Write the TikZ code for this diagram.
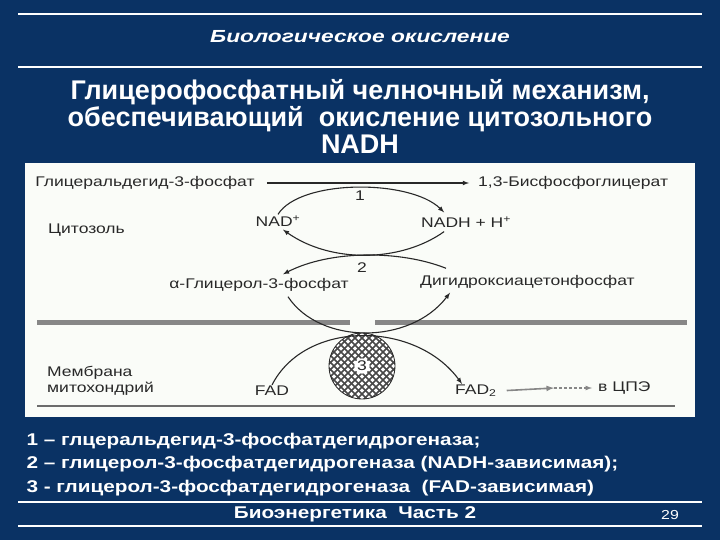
\documentclass[tikz,border=0pt]{standalone}
\usepackage{fontspec}
\setmainfont{Liberation Sans}
\newfontfamily\diagfont[FakeStretch=1.25]{Liberation Sans}
\newfontfamily\slidefont[FakeStretch=1.22]{Liberation Sans}
\newfontfamily\headfont[FakeStretch=1.3]{Liberation Sans}
\usetikzlibrary{calc, arrows}
\tikzset{>=latex}
\definecolor{slideblue}{RGB}{10, 50, 100}
\definecolor{boxwhite}{RGB}{250, 252, 248}
\definecolor{inkgray}{RGB}{40, 40, 40}
\definecolor{membgray}{RGB}{135, 135, 135}

\begin{document}
\begin{tikzpicture}[x = 1pt, y = -1pt,
  chem/.style = {text = inkgray, inner sep = 1pt, font = \diagfont\fontsize{14}{16}\selectfont},
  rxn/.style = {->, >=latex, inkgray, line width = 1.1pt},
  rule/.style = {white, line width = 1.3pt}]
\fill[slideblue] (0, 0) rectangle (720, 540);
\useasboundingbox (0, 0) rectangle (720, 540);

% slide frame
\draw[rule] (18, 14) -- (702, 14);
\draw[rule] (18, 67) -- (702, 67);
\draw[rule] (18, 502) -- (702, 502);
\draw[rule] (18, 526) -- (702, 526);
\node[white, font = \headfont\fontsize{17.5}{17.5}\bfseries\itshape\selectfont] (hdr) at (360, 37) {Биологическое окисление};
\node[white, align = center, font = \fontsize{27}{27}\bfseries\selectfont] (title) at (360, 116)
  {Глицерофосфатный челночный механизм,\\обеспечивающий\ \ окисление цитозольного\\NADH};

% diagram
\fill[boxwhite] (25, 163) rectangle (695, 417);
\fill[membgray] (37, 319.5) rectangle (350, 324.5);
\fill[membgray] (375, 319.5) rectangle (687, 324.5);
\draw[membgray!80!black, line width = 1.6pt] (37, 406) -- (675, 406);

\node[chem] (gap) at (145, 183) {Глицеральдегид-3-фосфат};
\node[chem, anchor = west] (bpg) at (477, 183) {1,3-Бисфосфоглицерат};
\node[chem] (n1) at (360, 196) {1};
\node[chem] (nad) at (278, 221) {NAD\textsuperscript{+}};
\node[chem, anchor = west] (nadh) at (420, 222) {NADH + H\textsuperscript{+}};
\node[chem, anchor = west] (cyto) at (47, 230) {Цитозоль};
\node[chem] (n2) at (362, 268) {2};
\node[chem] (agp) at (259, 285) {α-Глицерол-3-фосфат};
\node[chem, anchor = west] (dhap) at (419, 282) {Дигидроксиацетонфосфат};
\node[chem, anchor = west, align = left] (memb) at (46, 381) {Мембрана\\митохондрий};
\node[chem] (fad) at (272, 391) {FAD};
\node[chem, anchor = west] (fad2) at (454, 391) {FAD\textsubscript{2}};
\node[chem, anchor = west] (etc) at (597, 388) {в ЦПЭ};

% enzyme 3
\begin{scope}
\clip (362, 366) circle [radius = 33];
\fill[white] (362, 366) circle [radius = 33];
\foreach \i in {-84, -77, ..., 84} {
  \draw[inkgray!85, line width = 1.5pt] (362 + \i - 40, 326) -- (362 + \i + 40, 406);
  \draw[inkgray!85, line width = 1.5pt] (362 + \i + 40, 326) -- (362 + \i - 40, 406);
}
\end{scope}
\draw[inkgray, line width = 0.8pt] (362, 366) circle [radius = 33];
\node[chem, circle, fill = white, inner sep = 0.5pt] (enz) at (362, 366) {3};

% reactions
\draw[rxn, shorten <= 11pt, shorten >= 8pt] (gap.east) -- (bpg.west);
\draw[rxn] (nad.north) .. controls (300, 179) and (410, 179) .. ([xshift = -22pt, yshift = 3pt]nadh.north);
\draw[rxn] ([xshift = -22pt, yshift = -3pt]nadh.south) .. controls (400, 263) and (330, 263) .. ([xshift = 5pt, yshift = -2pt]nad.south);
\draw[rxn] ([xshift = 27pt, yshift = 6pt]dhap.north west) .. controls (400, 250) and (330, 250) .. ([xshift = 24pt, yshift = 3pt]agp.north);
\draw[rxn] ([xshift = 29pt, yshift = -4pt]agp.south) .. controls (320, 345) and (410, 345) .. ([xshift = 31pt, yshift = -3pt]dhap.south west);
\draw[rxn] (fad.north) .. controls (305, 320) and (415, 320) .. ([xshift = 8pt]fad2.north west);
\coordinate (relay) at (554, 388);
\draw[membgray, line width = 1.6pt, -latex, shorten <= 9pt] (fad2.east) -- (relay);
\draw[membgray, line width = 1.2pt, densely dashed, -latex, shorten >= 5pt] (relay) -- (etc.west);

% legend and footer
\node[white, anchor = west, align = left, font = \slidefont\fontsize{17}{23.5}\bfseries\selectfont] (legend) at (23, 464.5)
  {1 – глцеральдегид-3-фосфатдегидрогеназа;\\
   2 – глицерол-3-фосфатдегидрогеназа (NADH-зависимая);\\
   3 - глицерол-3-фосфатдегидрогеназа\ \ (FAD-зависимая)};
\node[white, font = \slidefont\fontsize{17}{17}\bfseries\selectfont] (foot) at (355, 514) {Биоэнергетика\ \ Часть 2};
\node[white, font = \slidefont\fontsize{13}{13}\selectfont] (page) at (670, 515) {29};
\end{tikzpicture}
\end{document}
